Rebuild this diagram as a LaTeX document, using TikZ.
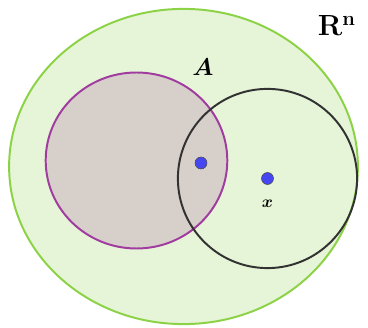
\documentclass[tikz,border=0pt]{standalone}
\usepackage{amsmath}
\usepackage{amsfonts}
\usepackage{bm}
\usepackage{xcolor}
\usepackage{tikz}
\usetikzlibrary{positioning}

\definecolor{spacefill}{RGB}{230,245,215}
\definecolor{spaceline}{RGB}{140,210,70}
\definecolor{setfill}{RGB}{215,207,202}
\definecolor{setline}{RGB}{160,60,160}
\definecolor{ballline}{RGB}{50,50,50}
\definecolor{dotfill}{RGB}{70,70,240}

\tikzset{
  pt/.style={fill=dotfill, draw=black!70, line width=0.4pt},
  lbl/.style={inner sep=1pt}
}

\begin{document}
\begin{tikzpicture}[line width=1.4pt]
            \useasboundingbox (0,0) rectangle (9.2,8.2);
            % 全空间 R^n
            \coordinate (o) at (4.5875,4.0375);
            \filldraw[fill=spacefill, draw=spaceline] (o) ellipse (4.36 and 3.94);
            \node[lbl] (rn) at (8.42,7.55) {\huge$\mathbf{R}^{\mathbf{n}}$};

            % 集合 A
            \coordinate (a) at (3.4125,4.1875);
            \filldraw[fill=setfill, draw=setline] (a) ellipse (2.27 and 2.2);
            \node[lbl] (la) at (5.075,6.52) {\LARGE$\bm{A}$};

            % 以 x 为中心的球
            \coordinate (x) at (6.6875,3.7375);
            \draw[ballline] (x) circle (2.24);

            % 点
            \coordinate (p) at (5.025,4.125);
            \path[pt] (p) circle (0.15);
            \path[pt] (x) circle (0.15);
            \node[lbl, below=0.48 of x] (lx) {\large$\bm{x}$};
\end{tikzpicture}
\end{document}
